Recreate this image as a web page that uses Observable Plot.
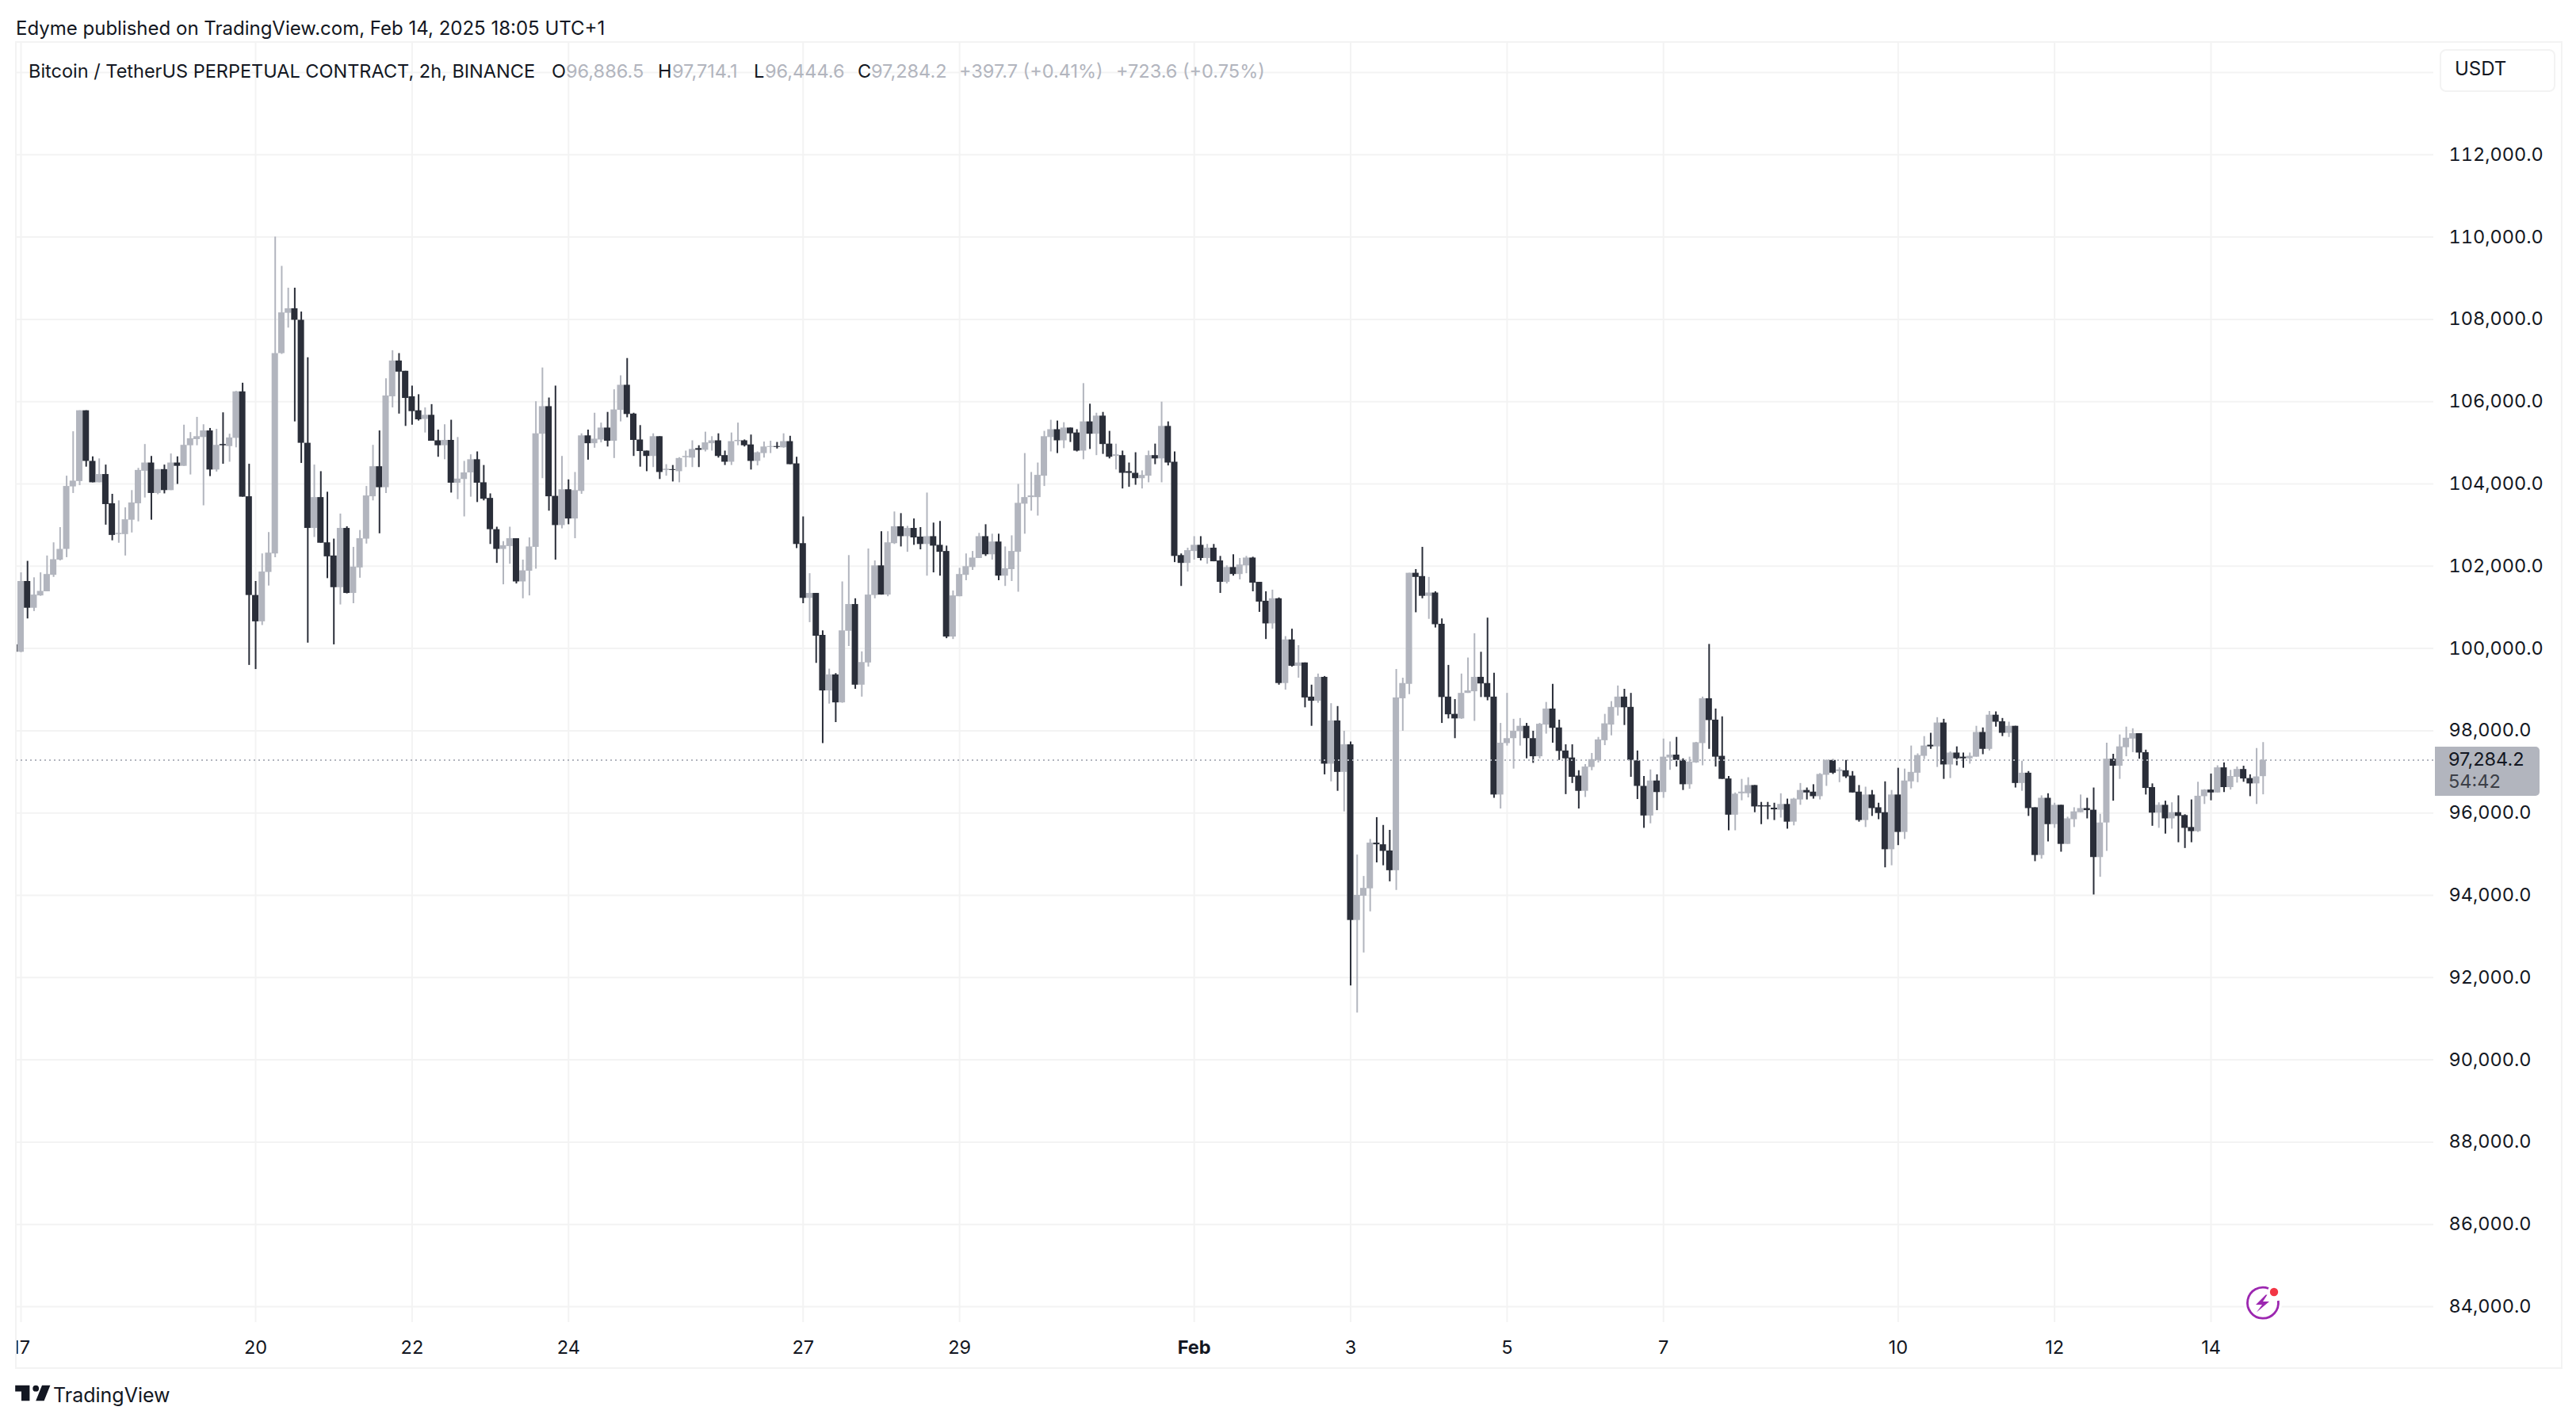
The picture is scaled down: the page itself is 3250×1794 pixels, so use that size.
<!DOCTYPE html>
<html><head><meta charset="utf-8">
<script src="https://cdn.jsdelivr.net/npm/d3@7"></script>
<script src="https://cdn.jsdelivr.net/npm/@observablehq/plot@0.6"></script>
<style>
html,body{margin:0;padding:0;background:#fff;width:3250px;height:1794px;overflow:hidden;font-family:Inter,"Noto Sans",sans-serif;color:#131722}
#stage{position:relative;width:3250px;height:1794px}
#stage svg.plot-svg{position:absolute;left:0;top:0}
.t{position:absolute;white-space:pre;line-height:1;transform:translateY(-50%);font-size:23.5px}
#frame{position:absolute;left:19px;top:52px;width:3210px;height:1671px;border:2px solid #f3f3f3}
#tag{position:absolute;left:3072px;top:942px;width:132px;height:62px;background:#b2b5be;border-radius:0 5px 5px 0}
#unit{position:absolute;left:3078px;top:62px;width:142px;height:50px;border:2px solid #f3f3f3;border-radius:8px;background:#fff}
.g{color:#b2b5be}
</style></head><body><div id="stage">
<div id="frame"></div>
<div id="chart"></div>
<div class="t" style="left:20px;top:36px;font-size:24px">Edyme published on TradingView.com, Feb 14, 2025 18:05 UTC+1</div>
<div class="t" style="left:36px;top:90px">Bitcoin / TetherUS PERPETUAL CONTRACT, 2h, BINANCE</div>
<div class="t" style="left:696px;top:90px">O</div><div class="t g" style="left:714px;top:90px">96,886.5</div>
<div class="t" style="left:830px;top:90px">H</div><div class="t g" style="left:848px;top:90px">97,714.1</div>
<div class="t" style="left:951px;top:90px">L</div><div class="t g" style="left:965px;top:90px">96,444.6</div>
<div class="t" style="left:1082px;top:90px">C</div><div class="t g" style="left:1099px;top:90px">97,284.2</div>
<div class="t g" style="left:1210px;top:90px">+397.7 (+0.41%)</div>
<div class="t g" style="left:1408px;top:90px">+723.6 (+0.75%)</div>
<div id="unit"></div>
<div class="t" style="left:3097px;top:87px;font-size:24px">USDT</div>
<div id="tag"></div>
<div class="t" style="left:3089px;top:958px">97,284.2</div>
<div class="t" style="left:3089px;top:986px;color:#3c3f47">54:42</div>
<svg style="position:absolute;left:14px;top:1740px" width="52" height="36" viewBox="0 0 40 27.7"><path fill="#131722" d="M18 6H4v6h6v9h8V6Zm14 15h-8l6-15h8l-6 15Zm-8-9a3 3 0 1 0 0-6 3 3 0 0 0 0 6Z"/></svg>
<div class="t" style="left:67px;top:1760px;font-size:25px">TradingView</div>
<svg style="position:absolute;left:2827px;top:1616px" width="56" height="56" viewBox="0 0 56 56">
<circle cx="28" cy="28" r="24" fill="#fff"/>
<path d="M35 9.5A19.5 19.5 0 1 0 47.3 25" fill="none" stroke="#9c27b0" stroke-width="2.8"/>
<path d="M31.5 17.5 19 30h8l-7 9.5L36 26h-8l5.5-8.5Z" fill="#9c27b0"/>
<circle cx="42" cy="14" r="5.2" fill="#f23645"/>
</svg>
</div>
<script>
const opens=[
100090,99910,101630,100980,101280,101380,101780,102150,102410,103930,
104060,105780,104550,104030,104230,103520,102770,102770,103120,103520,
104310,104510,103770,104350,103840,104510,104430,104930,105080,105130,
105290,104340,104960,104910,105110,106240,103690,101290,100650,101850,
102300,107170,108150,108260,107980,104990,102920,103670,102570,102250,
101480,102920,101340,101960,102660,103690,104420,103910,106120,106990,
106740,106120,105780,105570,105670,105050,104930,105060,104020,104110,
104270,104590,104030,103650,102890,102410,102480,102670,101620,101880,
102460,105210,105880,103700,102990,103860,103150,103820,105170,104980,
105070,105360,105040,105790,106400,105700,105070,104800,104670,105150,
104330,104350,104300,104640,104630,104860,104820,104980,105050,104690,
104530,105030,105050,104950,104550,104740,104890,104910,104880,105030,
104490,102550,101220,101340,100320,98970,99360,98680,100420,101070,
99110,99650,101290,102010,101300,102550,102960,102720,102920,102710,
102530,102720,102510,102360,100280,101260,101780,101970,102190,102720,
102280,102590,101760,101920,102340,103510,103670,103670,104190,105130,
105320,105050,105360,105240,104800,105510,105210,105650,104970,104670,
104690,104300,104260,104130,104190,104690,104610,105400,104530,102260,
102070,102360,102510,102190,102440,102130,101610,101970,101800,102010,
102200,101610,101150,100600,101210,99150,100210,99570,99650,98820,
98720,99300,97190,98240,96990,97660,93390,93980,94160,95270,
95230,95080,94600,98780,99130,101830,101750,101270,101350,100590,
98820,98400,98290,98910,98950,99300,99150,98820,96440,97690,
97810,97980,98110,97810,97370,98140,98530,98070,97510,97340,
96900,96530,97110,97280,97760,98140,98560,98820,98570,97270,
96650,95930,96780,96500,97340,97410,97280,96690,97220,97690,
98780,98260,97380,96830,95950,96470,96470,96670,96180,96180,
96120,96070,96210,95780,96320,96550,96510,96400,96920,97280,
97010,97030,96900,96510,95820,96440,96130,96010,95110,96440,
95530,96760,96970,97380,97650,97610,98190,97170,97460,97360,
97320,97360,97960,97550,98380,98220,97940,98110,96720,96970,
96130,94970,96360,95720,96190,95240,95840,96010,96110,96070,
94920,95760,97310,97140,97590,97800,97930,97470,96620,96000,
96190,95860,96010,95940,95650,95550,96400,96560,96490,97100,
96620,96870,97060,96840,96710,96886.5];
const closes=[
99910,101630,100980,101300,101390,101800,102160,102410,103940,104070,
105780,104550,104030,104230,103500,102750,102800,103130,103540,104330,
104510,103770,104350,103840,104510,104430,104940,105100,105150,105290,
104340,104940,104930,105120,106240,103680,101290,100650,101860,102320,
107170,108160,108260,107980,104990,102920,103670,102560,102230,101480,
102920,101340,101980,102670,103710,104420,103910,106140,106990,106720,
106080,105760,105560,105670,105040,104930,105060,104020,104120,104270,
104590,104020,103630,102890,102410,102500,102670,101620,101890,102470,
105220,105880,103690,102990,103860,103150,103840,105170,104980,105090,
105360,105040,105800,106400,105690,105060,104790,104670,105150,104280,
104360,104330,104620,104670,104840,104820,105000,105050,104670,104530,
105030,105060,104930,104550,104760,104900,104910,104890,105030,104470,
102530,101220,101340,100300,98970,99360,98680,100430,101070,99110,
99660,101300,102010,101300,102570,102960,102720,102920,102690,102530,
102720,102490,102340,100280,101280,101800,101990,102200,102720,102280,
102590,101760,101940,102360,103530,103670,103710,104210,105150,105320,
105050,105360,105220,104800,105510,105210,105650,104960,104650,104710,
104260,104260,104130,104210,104690,104610,105400,104510,102240,102070,
102380,102510,102190,102440,102110,101610,101970,101800,102030,102200,
101590,101130,100600,101210,99150,100210,99570,99650,98800,98720,
99300,97190,98240,96990,97660,93390,94000,94170,95270,95230,
95070,94600,98800,99150,101830,101730,101270,101350,100580,98810,
98390,98290,98910,98970,99300,99140,98810,96440,97700,97810,
97990,98110,97810,97370,98160,98530,98060,97500,97320,96870,
96530,97120,97300,97780,98170,98570,98820,98560,97280,96650,
95930,96780,96500,97360,97410,97280,96690,97240,97710,98780,
98250,97360,96820,95950,96460,96510,96670,96150,96150,96150,
96080,96210,95780,96340,96550,96490,96400,96940,97280,96970,
97050,96880,96490,95820,96440,96110,95990,95110,96440,95530,
96780,96990,97400,97630,97610,98190,97170,97460,97320,97320,
97380,97960,97550,98380,98210,97940,98110,96720,96970,96110,
94970,96360,95720,96190,95240,95860,96030,96110,96060,94920,
95760,97310,97140,97610,97820,97930,97460,96600,96000,96190,
95860,96010,95920,95630,95550,96410,96560,96490,97100,96620,
96890,97060,96830,96710,96880,97284.2];
const highs=[
100090,101840,102120,101720,101840,102250,102570,102940,104190,105270,
105780,105780,104660,104610,104460,103750,103590,103420,103840,104380,
104960,104670,104350,104460,104730,104660,105430,105250,105620,105440,
105350,105330,105730,105210,106250,106450,104480,101630,102300,102820,
110000,109290,108760,108760,108180,107070,104460,104300,103800,102660,
103270,102960,102460,102870,103940,104940,105290,106560,107240,107170,
106740,106380,106170,105850,105930,105310,105440,105550,105130,104550,
104710,104780,104450,103760,102950,102600,102950,102670,102150,102690,
106000,106820,106090,106380,104670,104100,104280,105220,105310,105720,
105480,105740,106290,106630,107050,105720,105420,104800,105220,105150,
104470,104450,104640,104800,105050,104930,105260,105150,105220,104800,
105240,105480,105070,105190,104780,105020,105040,105010,105220,105160,
104650,103200,101820,101340,100430,99500,99390,101620,102260,101210,
99920,102420,102130,102840,102840,103320,103280,102970,103150,102940,
103780,103050,103090,102490,101400,101950,102300,102360,102800,103010,
102780,102780,102470,102740,103990,104740,104280,104510,105280,105550,
105530,105490,105360,105320,106440,105940,105720,105740,105280,104970,
104800,104510,104760,104320,104800,104970,105990,105510,104780,102300,
102440,102720,102720,102530,102530,102240,102010,102280,102190,102240,
102220,101610,101380,101420,101230,100290,100470,100070,99650,99110,
99380,99320,98660,98590,97990,97730,94980,94460,95360,95890,
95700,95580,99490,99280,101830,101920,102460,101730,101380,100720,
99590,98760,99380,99770,100360,99910,100740,99400,98180,98910,
98280,98300,98180,97990,98180,98690,99130,98260,97660,97660,
97030,97180,97450,97840,98400,98710,99090,99010,98910,97510,
96890,97050,96930,97800,97730,97840,97320,97360,97720,98820,
100100,98530,98340,96890,96490,96820,96860,96670,96260,96260,
96240,96470,96340,96360,96720,96610,96690,96960,97290,97300,
97100,97280,97010,96670,96630,96550,96240,96760,96550,97090,
97070,97630,97440,97860,97940,98320,98280,97490,97610,97460,
97460,98110,98070,98470,98460,98300,98210,98110,97260,97010,
96130,96420,96470,96240,96190,95900,96130,96440,96360,96610,
95970,97700,97430,97900,98090,98050,97930,97530,96710,96250,
96290,96250,96420,95960,96320,96750,96570,96950,97150,97220,
97040,97120,97140,96930,97570,97714.1];
const lows=[
99910,99900,100720,100900,101270,101380,101730,102130,102210,103770,
103960,104410,104030,104030,103000,102620,102560,102250,102810,103080,
103660,103120,103740,103760,103840,103990,104430,104220,104930,103470,
104180,104290,104480,104530,104880,103680,99590,99490,100560,101520,
102210,107150,107790,105510,104500,100130,102700,102560,101700,100090,
101060,101330,101090,101710,102540,103590,102790,103770,105850,105700,
105400,105430,105530,105240,105040,104650,104590,103780,103620,103200,
103680,103550,103590,102530,102070,101550,102050,101570,101210,101280,
101930,104130,103340,102150,102910,103010,102670,103750,104580,104870,
105000,104900,104620,105510,105610,104670,104410,104300,104400,104110,
104190,104050,104030,104400,104400,104400,104780,104800,104630,104450,
104450,104930,104900,104340,104440,104630,104740,104850,104870,104470,
102430,101090,100630,99640,97690,98650,98200,98670,100050,99010,
98820,99550,101210,101300,101260,102530,102470,102340,102510,102400,
101760,101840,101760,100240,100220,101260,101650,101900,102190,102240,
102150,101650,101510,101630,101370,102780,103340,103220,103940,104780,
104740,104860,105010,104780,104590,104840,104690,104720,104610,104340,
103880,103920,103970,103880,104030,104470,104030,104440,102090,101510,
101860,102150,102130,102050,102110,101340,101570,101760,101670,101820,
101380,100880,100220,100470,99110,98990,99550,99280,98560,98110,
98670,96930,96760,96530,96030,91800,91140,92600,93600,94790,
94720,94330,94120,97990,98880,100870,101210,100710,100500,98180,
98290,97810,98280,98910,98230,98810,98730,96360,96100,97630,
97070,97630,97320,97210,97320,97920,97700,97280,96450,96720,
96100,96380,97030,97220,97640,97880,98360,98130,96870,96330,
95630,95740,96060,96360,97040,97120,96550,96580,97210,97150,
97550,97120,96820,95570,95570,96300,96370,96010,95720,95840,
95820,95880,95610,95690,96190,96320,96340,96320,96650,96940,
96740,96840,96490,95780,95650,95920,95840,94670,94720,95210,
95360,96590,96740,97300,97550,97110,96820,96840,97150,97090,
97190,97360,97420,97510,98090,97860,97840,96610,96530,95920,
94820,94880,95300,95630,95050,95240,95650,96010,95860,94010,
94440,95070,96290,96820,97370,97470,97310,96440,95680,95630,
95490,95610,95280,95140,95280,95530,96210,96300,96490,96500,
96560,96730,96750,96400,96210,96444.6];

const dayLabels=["17","20","22","24","27","29","Feb","3","5","7","10","12","14"];
const dayDates=[[0,17],[0,20],[0,22],[0,24],[0,27],[0,29],[1,1],[1,3],[1,5],[1,7],[1,10],[1,12],[1,14]].map(([m,d])=>new Date(Date.UTC(2025,m,d)));
const gridPrices=[84000,86000,88000,90000,92000,94000,96000,98000,100000,102000,104000,106000,108000,110000,112000,114000];
const labelPrices=gridPrices.slice(0,-1);
const lastPrice=97284.2;

const firstBar=Date.UTC(2025,0,16,22), barMs=7200000;
const bars=opens.map((o,k)=>({t0:new Date(firstBar+k*barMs-barMs/2),t:new Date(firstBar+k*barMs),t1:new Date(firstBar+k*barMs+barMs/2),o,h:highs[k],l:lows[k],c:closes[k],up:closes[k]>=o}));
const UP="#b2b5be",DOWN="#2a2e39",GRID="#f3f3f3",INK="#131722";
const dayRows=dayDates.map((d,i)=>({d,label:dayLabels[i]}));

const chart=Plot.plot({
  width:3250,height:1794,
  marginLeft:20,marginRight:180,marginTop:53,marginBottom:70,
  style:{fontFamily:'Inter,"Noto Sans",sans-serif',background:"transparent"},
  x:{type:"utc",domain:[dayDates[0],dayDates[12]],range:[26,2789],axis:null},
  y:{type:"linear",domain:[84000,114000],range:[1648,91]},
  marks:[
    Plot.ruleY(gridPrices,{y:d=>d,stroke:GRID,strokeWidth:2}),
    Plot.ruleX(dayDates,{x:d=>d,stroke:GRID,strokeWidth:2,insetBottom:56}),
    Plot.ruleX(bars,{x:"t",y1:"l",y2:"h",stroke:d=>d.up?UP:DOWN,strokeWidth:2,clip:"frame"}),
    Plot.rect(bars,{x1:"t0",x2:"t1",y1:"o",y2:"c",fill:d=>d.up?UP:DOWN,insetLeft:0.1,insetRight:0.1,clip:"frame"}),
    Plot.ruleY([lastPrice],{y:d=>d,stroke:UP,strokeWidth:2,strokeDasharray:"2,4"}),
    Plot.axisY(labelPrices,{anchor:"right",tickSize:0,tickPadding:19,dy:0,label:null,fontSize:23.5,fill:INK,tickFormat:d=>d3.format(",.1f")(d)}),
    Plot.text(dayRows.filter(r=>r.label!=="Feb"),{x:"d",text:"label",frameAnchor:"bottom",dy:-17,fontSize:23.5,fill:INK,clip:"frame"}),
    Plot.text(dayRows.filter(r=>r.label==="Feb"),{x:"d",text:"label",frameAnchor:"bottom",dy:-17,fontSize:23.5,fontWeight:700,fill:INK,clip:"frame"})
  ]
});
document.getElementById("chart").appendChild(chart);
</script></body></html>
